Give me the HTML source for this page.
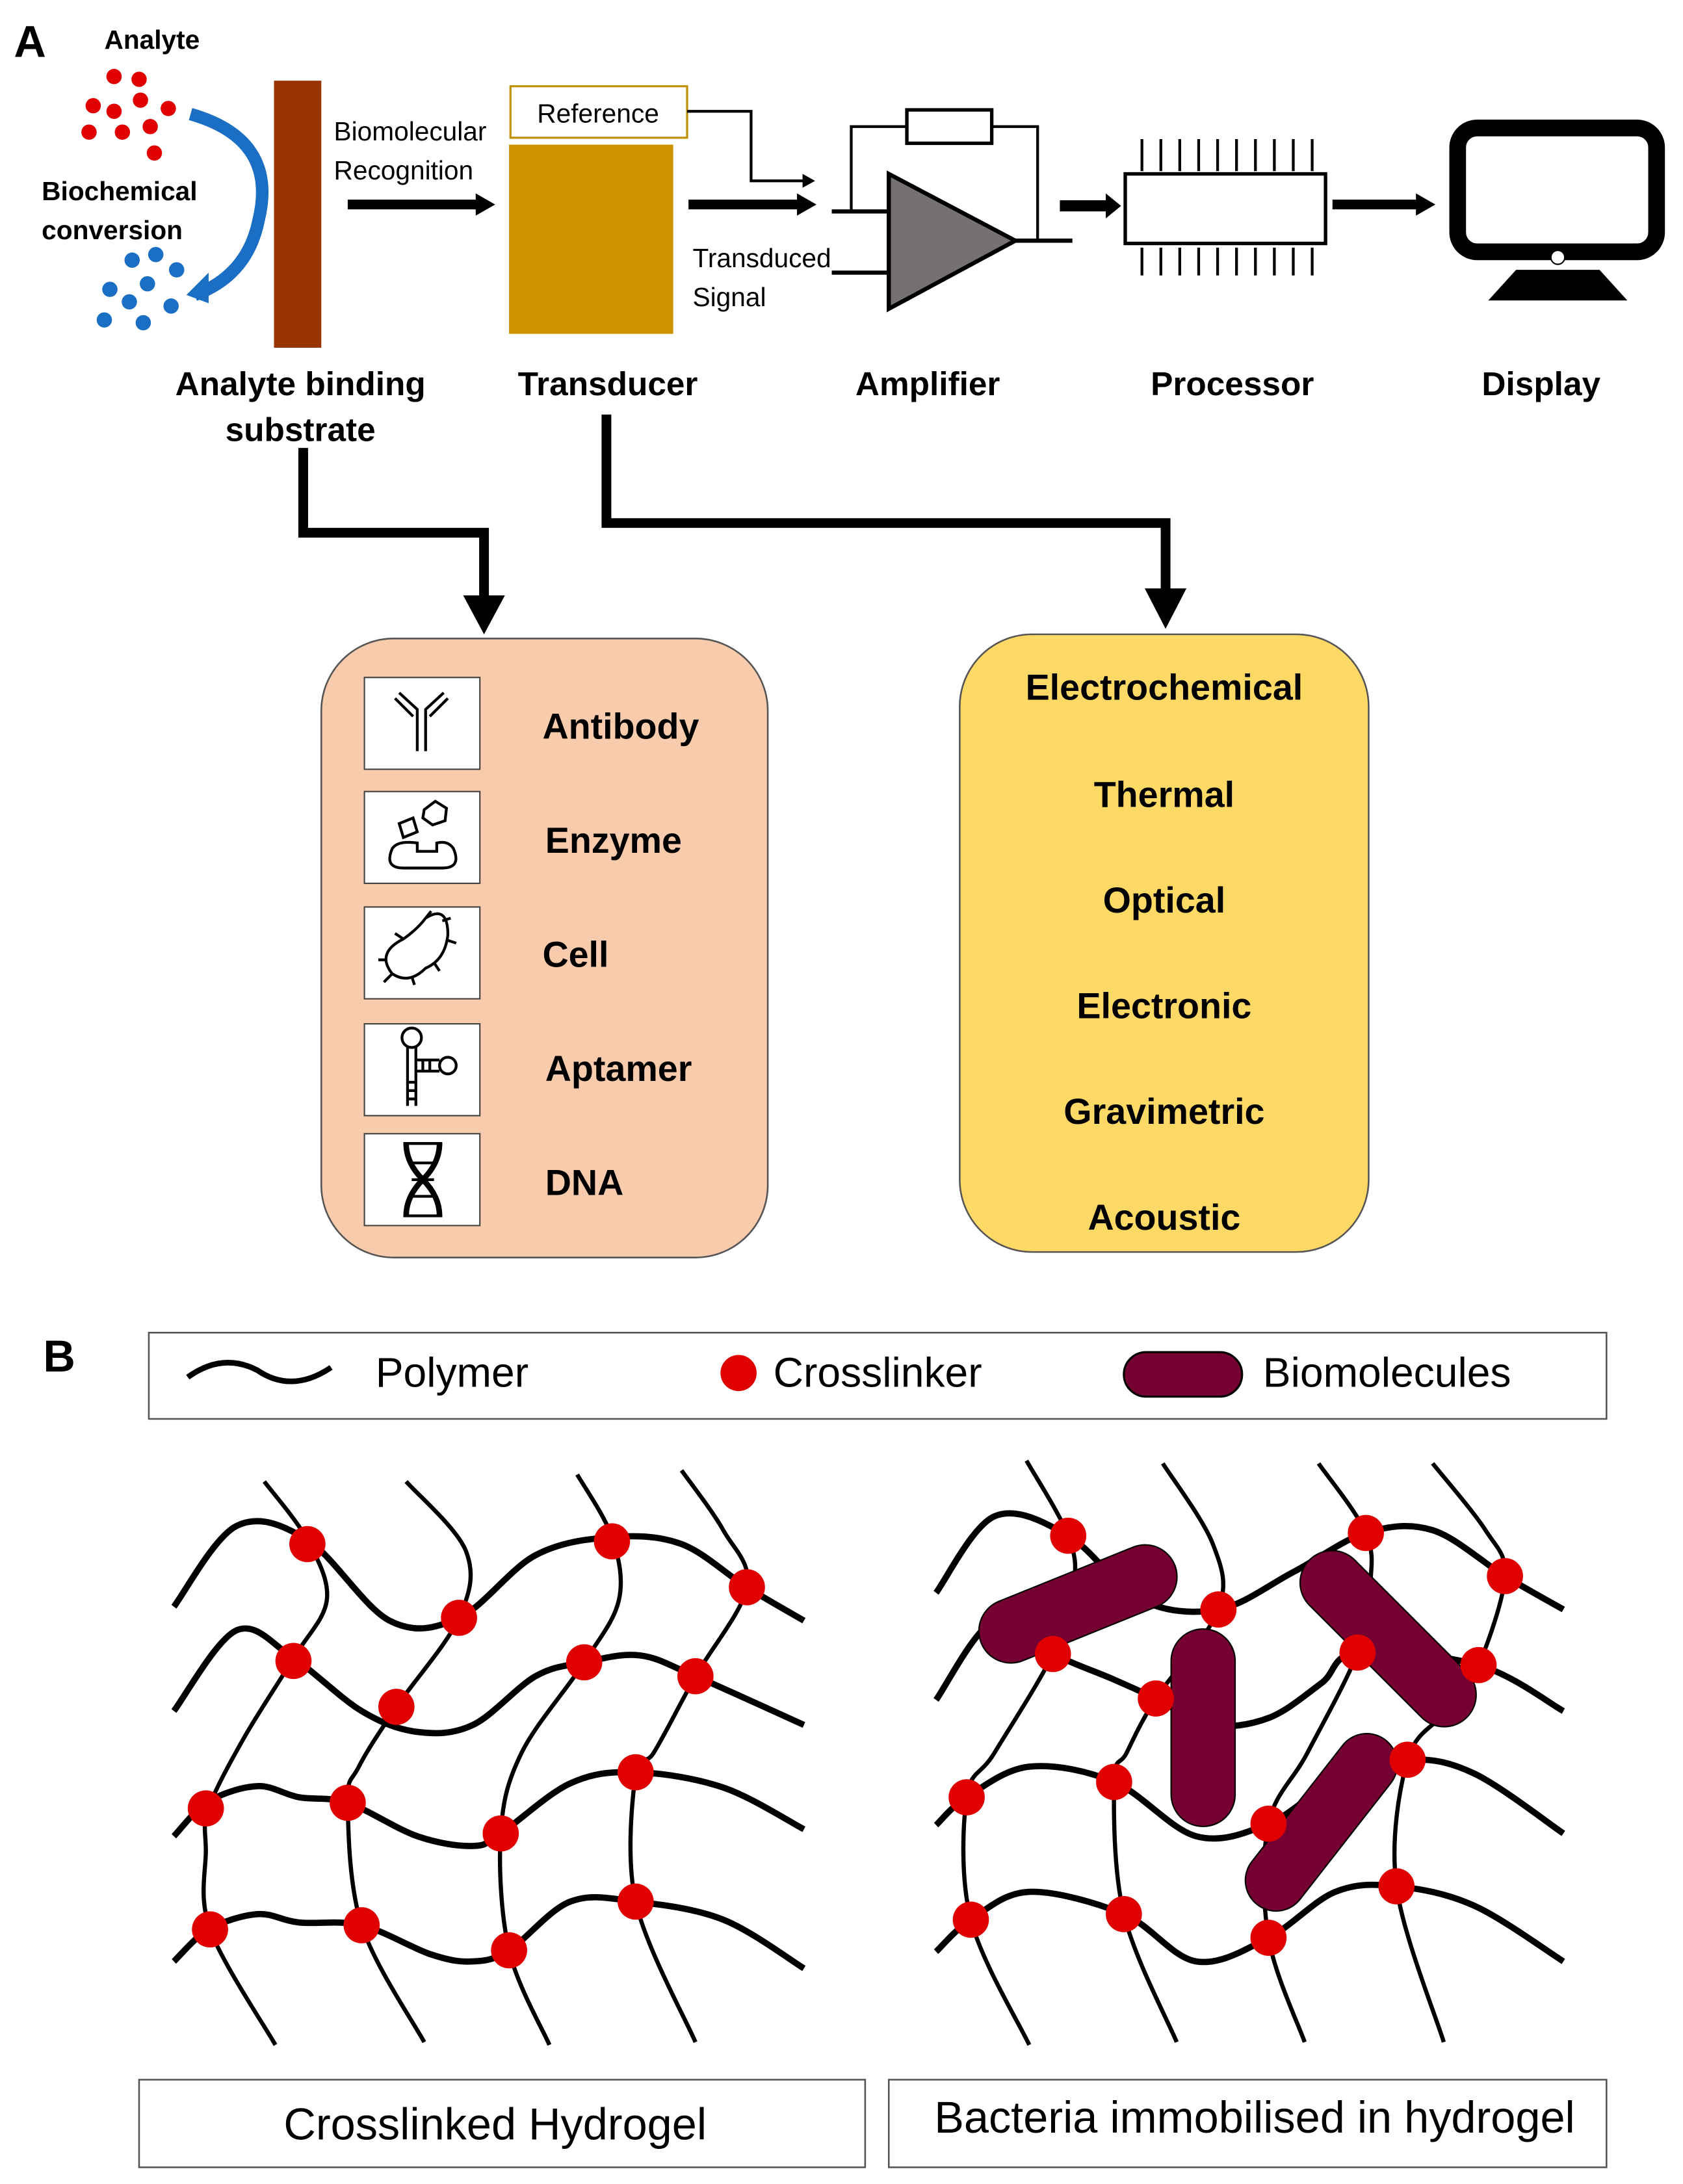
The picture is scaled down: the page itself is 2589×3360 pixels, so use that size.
<!DOCTYPE html>
<html><head><meta charset="utf-8"><style>
html,body{margin:0;padding:0;background:#fff;}
svg{display:block;}
text{font-family:"Liberation Sans",sans-serif;}
.b{font-weight:bold;}
</style></head><body>
<svg id="s" width="2589" height="3360" viewBox="0 0 1210 1570" preserveAspectRatio="none" xmlns="http://www.w3.org/2000/svg">
<defs>
<marker id="ah" markerWidth="4" markerHeight="4" refX="2.5" refY="2" orient="auto" markerUnits="strokeWidth"><path d="M0,0 L3,2 L0,4 z" fill="#000"/></marker>
<marker id="ahs" markerWidth="8" markerHeight="8" refX="6" refY="4" orient="auto" markerUnits="userSpaceOnUse"><path d="M0,0 L8,4 L0,8 z" fill="#000"/></marker>
</defs>
<rect width="1210" height="1570" fill="#fff"/>
<!-- Part A -->
<text x="10" y="41" class="b" font-size="32">A</text>
<text x="75" y="35" class="b" font-size="19">Analyte</text>
<g fill="#e00000">
<circle cx="82" cy="55" r="5.5"/><circle cx="100" cy="57" r="5.5"/><circle cx="67" cy="76" r="5.5"/><circle cx="82" cy="80" r="5.5"/><circle cx="101" cy="72" r="5.5"/><circle cx="121" cy="78" r="5.5"/><circle cx="64" cy="95" r="5.5"/><circle cx="88" cy="95" r="5.5"/><circle cx="108" cy="91" r="5.5"/><circle cx="111" cy="110" r="5.5"/>
</g>
<path d="M137,82 Q200,100 186,158 Q178,198 140,212" fill="none" stroke="#1a6fc4" stroke-width="9"/>
<path d="M134,212 L150,196 L150,218 z" fill="#1a6fc4"/>
<text x="30" y="144" class="b" font-size="19">Biochemical</text>
<text x="30" y="172" class="b" font-size="19">conversion</text>
<g fill="#1a6fc4">
<circle cx="95" cy="187" r="5.5"/><circle cx="112" cy="183" r="5.5"/><circle cx="79" cy="208" r="5.5"/><circle cx="106" cy="204" r="5.5"/><circle cx="127" cy="194" r="5.5"/><circle cx="93" cy="217" r="5.5"/><circle cx="75" cy="230" r="5.5"/><circle cx="103" cy="232" r="5.5"/><circle cx="123" cy="220" r="5.5"/>
</g>
<rect x="197" y="58" width="34" height="192" fill="#993300"/>
<text x="240" y="101" font-size="19">Biomolecular</text>
<text x="240" y="129" font-size="19">Recognition</text>
<line x1="250" y1="147" x2="343" y2="147" stroke="#000" stroke-width="7"/><path d="M342,139 L356,147 L342,155 z"/>
<rect x="367" y="62" width="127" height="37" fill="#fff" stroke="#bf9000" stroke-width="1.5"/>
<text x="430" y="88" font-size="19" text-anchor="middle">Reference</text>
<rect x="366" y="104" width="118" height="136" fill="#cc9200"/>
<polyline points="494,80 540,80 540,130 578,130" fill="none" stroke="#000" stroke-width="2"/><path d="M577,125 L586,130 L577,135 z"/>
<line x1="495" y1="147" x2="574" y2="147" stroke="#000" stroke-width="7"/><path d="M573,139 L587,147 L573,155 z"/>
<text x="498" y="192" font-size="19">Transduced</text>
<text x="498" y="220" font-size="19">Signal</text>
<!-- amplifier -->
<line x1="598" y1="152" x2="640" y2="152" stroke="#000" stroke-width="3"/>
<line x1="598" y1="196" x2="640" y2="196" stroke="#000" stroke-width="3"/>
<polyline points="612,152 612,91 652,91" fill="none" stroke="#000" stroke-width="2"/>
<rect x="652" y="79" width="61" height="24" fill="#fff" stroke="#000" stroke-width="2.5"/>
<polyline points="713,91 746,91 746,173" fill="none" stroke="#000" stroke-width="2"/>
<path d="M639,125 L639,222 L730,173 z" fill="#767171" stroke="#000" stroke-width="3"/>
<line x1="730" y1="173" x2="771" y2="173" stroke="#000" stroke-width="3"/>
<line x1="762" y1="148" x2="796" y2="148" stroke="#000" stroke-width="8"/><path d="M795,139 L806,148 L795,157 z"/>
<!-- processor -->
<rect x="809" y="125" width="144" height="50" fill="#fff" stroke="#000" stroke-width="2.5"/>
<g id="pins" stroke="#000" stroke-width="2"></g>
<line x1="958" y1="147" x2="1019" y2="147" stroke="#000" stroke-width="7"/><path d="M1018,139 L1032,147 L1018,155 z"/>
<!-- display -->
<rect x="1048" y="92" width="143" height="89" rx="14" fill="#fff" stroke="#000" stroke-width="12"/>
<path d="M1090,194 L1150,194 L1170,216 L1070,216 z"/>
<circle cx="1120" cy="185" r="5" fill="#fff" stroke="#000" stroke-width="1"/>
<g class="b" font-size="24" text-anchor="middle" font-weight="bold">
<text x="216" y="284">Analyte binding</text>
<text x="216" y="317">substrate</text>
<text x="437" y="284">Transducer</text>
<text x="667" y="284">Amplifier</text>
<text x="886" y="284">Processor</text>
<text x="1108" y="284">Display</text>
</g>
<!-- connectors -->
<polyline points="218,322 218,383 348,383 348,430" fill="none" stroke="#000" stroke-width="7"/>
<path d="M333,428 L363,428 L348,456 z"/>
<polyline points="436,298 436,376 838,376 838,425" fill="none" stroke="#000" stroke-width="7"/>
<path d="M823,423 L853,423 L838,452 z"/>
<!-- peach box -->
<rect x="231" y="459" width="321" height="445" rx="52" fill="#f8cbad" stroke="#555" stroke-width="1.2"/>
<g fill="#fff" stroke="#444" stroke-width="1">
<rect x="262" y="487" width="83" height="66"/><rect x="262" y="569" width="83" height="66"/><rect x="262" y="652" width="83" height="66"/><rect x="262" y="736" width="83" height="66"/><rect x="262" y="815" width="83" height="66"/>
</g>
<g fill="none" stroke="#000" stroke-width="2">
<!-- antibody -->
<path d="M300,540 L300,510 L287,498 M306,540 L306,510 L319,498 M284,502 L297,515 M322,502 L309,515"/>
<!-- enzyme -->
<path d="M282,610 Q276,624 290,624 L318,624 Q332,624 326,610 Q322,604 314,606 L314,612 L300,612 L300,606 Q286,604 282,610 z"/>
<path d="M287,592 L297,588 L300,598 L290,602 z M305,582 L313,576 L321,581 L320,590 L311,593 L304,588 z"/>
<!-- cell -->
<path d="M282,700 Q270,685 290,675 Q300,668 306,660 Q322,650 322,672 Q320,690 306,696 Q294,708 282,700 z"/>
<path d="M306,660 L310,655 M318,662 L324,660 M322,676 L328,678 M312,692 L316,698 M296,702 L298,708 M282,700 L276,706 M278,690 L272,690 M290,675 L284,671"/>
<!-- aptamer -->
<circle cx="296" cy="746" r="7"/><circle cx="322" cy="766" r="6"/>
<path d="M293,753 L293,795 M299,753 L299,795 M299,762 L316,762 M299,770 L316,770"/>
<path d="M293,778 L299,778 M293,784 L299,784 M293,790 L299,790 M304,762 L304,770 M309,762 L309,770"/>
</g>
<!-- DNA -->
<path d="M292,822 Q292,836 304,848 Q316,860 316,874 M316,822 Q316,836 304,848 Q292,860 292,874" fill="none" stroke="#000" stroke-width="4"/>
<path d="M290,822 L318,822 M294,836 L314,836 M296,848 L312,848 M294,860 L314,860 M290,874 L318,874" stroke="#000" stroke-width="2"/>
<g font-size="26" font-weight="bold">
<text x="390" y="531">Antibody</text>
<text x="392" y="613">Enzyme</text>
<text x="390" y="695">Cell</text>
<text x="392" y="777">Aptamer</text>
<text x="392" y="859">DNA</text>
</g>
<!-- yellow box -->
<rect x="690" y="456" width="294" height="444" rx="52" fill="#ffd966" stroke="#555" stroke-width="1.2"/>
<g font-size="26" font-weight="bold" text-anchor="middle">
<text x="837" y="503">Electrochemical</text>
<text x="837" y="580">Thermal</text>
<text x="837" y="656">Optical</text>
<text x="837" y="732">Electronic</text>
<text x="837" y="808">Gravimetric</text>
<text x="837" y="884">Acoustic</text>
</g>
<!-- Part B -->
<text x="31" y="986" class="b" font-size="32">B</text>
<rect x="107" y="958" width="1048" height="62" fill="#fff" stroke="#555" stroke-width="1.2"/>
<path d="M135,990 Q160,972 185,985 Q210,1002 238,983" fill="none" stroke="#000" stroke-width="4"/>
<text x="270" y="997" font-size="30">Polymer</text>
<circle cx="531" cy="987" r="13" fill="#e00000"/>
<text x="556" y="997" font-size="30">Crosslinker</text>
<rect x="808" y="972" width="85" height="32" rx="16" fill="#750032" stroke="#000" stroke-width="1.5"/>
<text x="908" y="997" font-size="30">Biomolecules</text>
<g id="net" fill="none" stroke="#000"></g>
<g id="caps" fill="#750032" stroke="#000" stroke-width="1"></g>
<g id="dots" fill="#e00000"></g>
<rect x="100" y="1495" width="522" height="63" fill="#fff" stroke="#555" stroke-width="1.2"/>
<text x="356" y="1538" font-size="32" text-anchor="middle">Crosslinked Hydrogel</text>
<rect x="639" y="1495" width="516" height="63" fill="#fff" stroke="#555" stroke-width="1.2"/>
<text x="902" y="1533" font-size="32" text-anchor="middle">Bacteria immobilised in hydrogel</text>
</svg>
<script>
var NS="http://www.w3.org/2000/svg";
function el(p,t,a){var e=document.createElementNS(NS,t);for(var k in a)e.setAttribute(k,a[k]);document.getElementById(p).appendChild(e);return e;}
for(var i=0;i<10;i++){var x=821+i*13.6;el("pins","line",{x1:x,y1:100,x2:x,y2:123});el("pins","line",{x1:x,y1:178,x2:x,y2:198});}
function cr(p){var d="M"+p[0][0]+","+p[0][1];for(var i=0;i<p.length-1;i++){var a=p[i-1]||p[i],b=p[i],c=p[i+1],e=p[i+2]||c;d+=" C"+(b[0]+(c[0]-a[0])/6)+","+(b[1]+(c[1]-a[1])/6)+" "+(c[0]-(e[0]-b[0])/6)+","+(c[1]-(e[1]-b[1])/6)+" "+c[0]+","+c[1];}return d;}
function net(H,V,dots,dx){
H.forEach(function(p){el("net","path",{d:cr(p.map(function(q){return[q[0]+dx,q[1]]})),"stroke-width":4.5});});
V.forEach(function(p){el("net","path",{d:cr(p.map(function(q){return[q[0]+dx,q[1]]})),"stroke-width":3});});
}
var HL=[[[125,1155],[170,1097],[221,1107],[280,1165],[330,1163],[385,1118],[440,1105],[490,1110],[537,1141],[578,1165]],
[[125,1230],[170,1172],[211,1192],[260,1230],[300,1245],[340,1240],[385,1205],[420,1195],[460,1190],[500,1205],[578,1240]],
[[125,1320],[150,1295],[185,1284],[215,1292],[250,1296],[300,1320],[340,1327],[360,1318],[410,1282],[457,1274],[520,1285],[578,1315]],
[[125,1410],[150,1387],[185,1376],[215,1382],[260,1384],[310,1405],[340,1410],[366,1402],[410,1367],[457,1367],[520,1380],[578,1415]]];
var VL=[[[190,1065],[221,1107],[235,1150],[211,1192],[175,1250],[150,1300],[148,1330],[151,1387],[198,1470]],
[[292,1065],[335,1115],[330,1163],[285,1227],[258,1270],[250,1296],[260,1384],[305,1468]],
[[415,1060],[440,1105],[445,1150],[420,1195],[375,1260],[360,1318],[366,1402],[395,1470]],
[[490,1057],[520,1100],[537,1141],[500,1205],[470,1260],[457,1274],[457,1367],[500,1468]]];
net(HL,VL,null,0);
var HR=[[[673,1145],[715,1090],[768,1104],[820,1150],[876,1157],[930,1130],[982,1102],[1030,1100],[1082,1133],[1124,1157]],
[[673,1222],[715,1165],[757,1189],[800,1207],[831,1221],[870,1240],[912,1235],[950,1210],[976,1188],[1063,1197],[1124,1230]],
[[673,1312],[695,1292],[740,1270],[801,1281],[860,1320],[912,1311],[960,1280],[1012,1265],[1060,1275],[1124,1318]],
[[673,1403],[698,1380],[740,1360],[808,1376],[860,1410],[912,1393],[960,1360],[1004,1356],[1060,1370],[1124,1410]]];
var VR=[[[738,1050],[768,1104],[772,1140],[757,1189],[715,1260],[695,1292],[698,1380],[740,1470]],
[[836,1052],[872,1110],[876,1157],[831,1221],[810,1260],[801,1281],[808,1376],[846,1468]],
[[948,1052],[982,1102],[985,1140],[976,1188],[940,1260],[912,1311],[912,1393],[938,1468]],
[[1030,1052],[1068,1100],[1082,1133],[1063,1197],[1040,1230],[1012,1265],[1004,1356],[1038,1468]]];
net(HR,VR,null,0);
function cap(cx,cy,len,w,ang){el("caps","rect",{x:cx-len/2,y:cy-w/2,width:len,height:w,rx:w/2,transform:"rotate("+ang+" "+cx+" "+cy+")"});}
cap(775,1153,150,46,-22);cap(865,1242,142,46,90);cap(998,1178,160,46,45);cap(950,1310,150,44,-52);
var D=[[221,1110],[330,1163],[440,1108],[537,1141],[211,1194],[285,1227],[420,1195],[500,1205],[148,1300],[250,1296],[360,1318],[457,1274],[151,1387],[260,1384],[366,1402],[457,1367],
[768,1104],[876,1157],[982,1102],[1082,1133],[757,1189],[831,1221],[976,1188],[1063,1197],[695,1292],[801,1281],[912,1311],[1012,1265],[698,1380],[808,1376],[912,1393],[1004,1356]];
D.forEach(function(p){el("dots","circle",{cx:p[0],cy:p[1],r:13});});
</script>
</body></html>
